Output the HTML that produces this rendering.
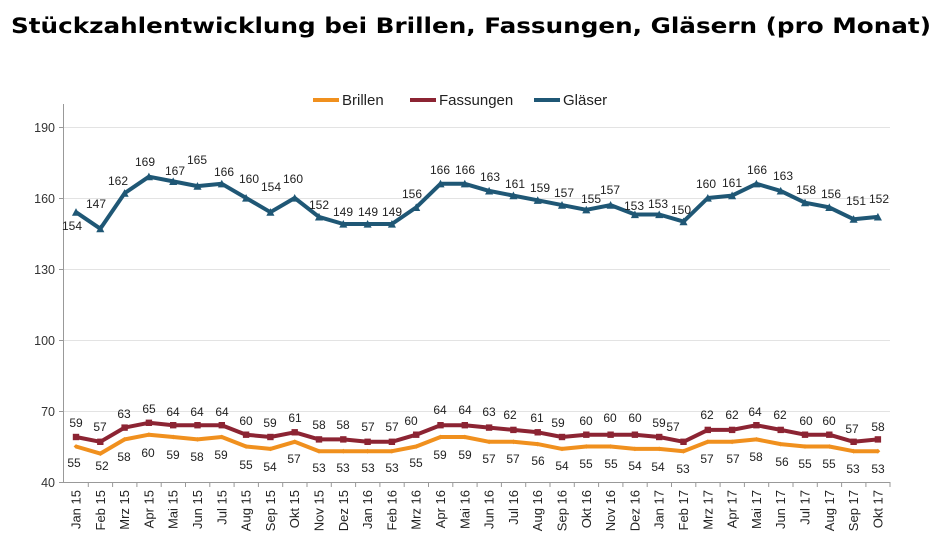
<!DOCTYPE html>
<html><head><meta charset="utf-8"><style>
body{margin:0;background:#fff;}
svg{display:block;font-family:"Liberation Sans",Arial,sans-serif;}
</style></head><body>
<svg width="945" height="557" viewBox="0 0 945 557" xmlns="http://www.w3.org/2000/svg">
<defs>
<marker id="tri" viewBox="-5 -5 10 10" markerWidth="9" markerHeight="9" markerUnits="userSpaceOnUse"><path d="M0,-4.5 L4.5,4 L-4.5,4Z" fill="#1f5775"/></marker>
<marker id="sq" viewBox="-5 -5 10 10" markerWidth="8" markerHeight="8" markerUnits="userSpaceOnUse"><rect x="-4" y="-4" width="8" height="8" fill="#8c2433"/></marker>
<marker id="dia" viewBox="-5 -5 10 10" markerWidth="6" markerHeight="6" markerUnits="userSpaceOnUse"><path d="M0,-4 L4,0 L0,4 L-4,0Z" fill="#f0901e"/></marker>
</defs>
<text x="471" y="33" text-anchor="middle" font-family="DejaVu Sans,Verdana,sans-serif" font-weight="bold" font-size="21" textLength="920" lengthAdjust="spacingAndGlyphs">Stückzahlentwicklung bei Brillen, Fassungen, Gläsern (pro Monat)</text>
<g stroke="#e3e3e3" stroke-width="1">
<line x1="64" y1="127.5" x2="890" y2="127.5"/><line x1="64" y1="198.5" x2="890" y2="198.5"/><line x1="64" y1="269.5" x2="890" y2="269.5"/><line x1="64" y1="340.5" x2="890" y2="340.5"/><line x1="64" y1="411.5" x2="890" y2="411.5"/>
</g>
<g stroke="#999" stroke-width="1">
<line x1="63.5" y1="104" x2="63.5" y2="482"/><line x1="63" y1="482.5" x2="890" y2="482.5"/>
<line x1="59" y1="127.5" x2="63" y2="127.5"/><line x1="59" y1="198.5" x2="63" y2="198.5"/><line x1="59" y1="269.5" x2="63" y2="269.5"/><line x1="59" y1="340.5" x2="63" y2="340.5"/><line x1="59" y1="411.5" x2="63" y2="411.5"/><line x1="59" y1="482.5" x2="63" y2="482.5"/>
</g>
<g font-size="12.5" fill="#333" text-anchor="end">
<text x="55" y="132">190</text><text x="55" y="203">160</text><text x="55" y="274">130</text><text x="55" y="345">100</text><text x="55" y="416">70</text><text x="55" y="487">40</text>
</g>
<g font-size="15" fill="#222">
<line x1="313" y1="100" x2="339" y2="100" stroke="#f0901e" stroke-width="4"/><text x="342" y="105">Brillen</text>
<line x1="410" y1="100" x2="436" y2="100" stroke="#8c2433" stroke-width="4"/><text x="439" y="105">Fassungen</text>
<line x1="534" y1="100" x2="560" y2="100" stroke="#1f5775" stroke-width="4"/><text x="563" y="105">Gläser</text>
</g>
<polyline fill="none" stroke="#1f5775" stroke-width="4" stroke-linejoin="round" marker-start="url(#tri)" marker-mid="url(#tri)" marker-end="url(#tri)" points="76,212.2 100.3,228.7 124.6,193.2 148.9,176.7 173.2,181.4 197.5,186.1 221.8,183.8 246.1,198 270.4,212.2 294.7,198 319,216.9 343.3,224 367.6,224 391.9,224 416.2,207.4 440.5,183.8 464.8,183.8 489.1,190.9 513.4,195.6 537.7,200.3 562,205.1 586.3,209.8 610.6,205.1 634.9,214.5 659.2,214.5 683.5,221.6 707.8,198 732.1,195.6 756.4,183.8 780.7,190.9 805,202.7 829.3,207.4 853.6,219.2 877.9,216.9"/>
<polyline fill="none" stroke="#8c2433" stroke-width="4" stroke-linejoin="round" marker-start="url(#sq)" marker-mid="url(#sq)" marker-end="url(#sq)" points="76,437 100.3,441.8 124.6,427.6 148.9,422.8 173.2,425.2 197.5,425.2 221.8,425.2 246.1,434.7 270.4,437 294.7,432.3 319,439.4 343.3,439.4 367.6,441.8 391.9,441.8 416.2,434.7 440.5,425.2 464.8,425.2 489.1,427.6 513.4,429.9 537.7,432.3 562,437 586.3,434.7 610.6,434.7 634.9,434.7 659.2,437 683.5,441.8 707.8,429.9 732.1,429.9 756.4,425.2 780.7,429.9 805,434.7 829.3,434.7 853.6,441.8 877.9,439.4"/>
<polyline fill="none" stroke="#f0901e" stroke-width="4" stroke-linejoin="round" marker-start="url(#dia)" marker-mid="url(#dia)" marker-end="url(#dia)" points="76,446.5 100.3,453.6 124.6,439.4 148.9,434.7 173.2,437 197.5,439.4 221.8,437 246.1,446.5 270.4,448.9 294.7,441.8 319,451.2 343.3,451.2 367.6,451.2 391.9,451.2 416.2,446.5 440.5,437 464.8,437 489.1,441.8 513.4,441.8 537.7,444.1 562,448.9 586.3,446.5 610.6,446.5 634.9,448.9 659.2,448.9 683.5,451.2 707.8,441.8 732.1,441.8 756.4,439.4 780.7,444.1 805,446.5 829.3,446.5 853.6,451.2 877.9,451.2"/>
<g font-size="12" fill="#222" text-anchor="middle">
<text x="72" y="230">154</text><text x="96" y="208">147</text><text x="118" y="185">162</text><text x="145" y="166">169</text><text x="175" y="175">167</text><text x="197" y="164">165</text><text x="224" y="176">166</text><text x="249" y="183">160</text><text x="271" y="191">154</text><text x="293" y="183">160</text><text x="319" y="209">152</text><text x="343" y="216">149</text><text x="368" y="216">149</text><text x="392" y="216">149</text><text x="412" y="198">156</text><text x="440" y="174">166</text><text x="465" y="174">166</text><text x="490" y="181">163</text><text x="515" y="188">161</text><text x="540" y="192">159</text><text x="564" y="197">157</text><text x="591" y="203">155</text><text x="610" y="194">157</text><text x="634" y="210">153</text><text x="658" y="208">153</text><text x="681" y="214">150</text><text x="706" y="188">160</text><text x="732" y="187">161</text><text x="757" y="174">166</text><text x="783" y="180">163</text><text x="806" y="194">158</text><text x="831" y="198">156</text><text x="856" y="205">151</text><text x="879" y="203">152</text>
</g>
<g font-size="12" fill="#222" text-anchor="middle">
<text x="76" y="427">59</text><text x="100" y="431">57</text><text x="124" y="418">63</text><text x="149" y="413">65</text><text x="173" y="416">64</text><text x="197" y="416">64</text><text x="222" y="416">64</text><text x="246" y="425">60</text><text x="270" y="427">59</text><text x="295" y="422">61</text><text x="319" y="429">58</text><text x="343" y="429">58</text><text x="368" y="431">57</text><text x="392" y="431">57</text><text x="411" y="425">60</text><text x="440" y="414">64</text><text x="465" y="414">64</text><text x="489" y="416">63</text><text x="510" y="419">62</text><text x="537" y="422">61</text><text x="558" y="427">59</text><text x="586" y="425">60</text><text x="610" y="422">60</text><text x="635" y="422">60</text><text x="659" y="427">59</text><text x="673" y="431">57</text><text x="707" y="419">62</text><text x="732" y="419">62</text><text x="755" y="416">64</text><text x="780" y="419">62</text><text x="806" y="425">60</text><text x="829" y="425">60</text><text x="852" y="433">57</text><text x="878" y="431">58</text>
</g>
<g font-size="12" fill="#222" text-anchor="middle">
<text x="74" y="467">55</text><text x="102" y="470">52</text><text x="124" y="461">58</text><text x="148" y="457">60</text><text x="173" y="459">59</text><text x="197" y="461">58</text><text x="221" y="459">59</text><text x="246" y="469">55</text><text x="270" y="471">54</text><text x="294" y="463">57</text><text x="319" y="472">53</text><text x="343" y="472">53</text><text x="368" y="472">53</text><text x="392" y="472">53</text><text x="416" y="467">55</text><text x="440" y="459">59</text><text x="465" y="459">59</text><text x="489" y="463">57</text><text x="513" y="463">57</text><text x="538" y="465">56</text><text x="562" y="470">54</text><text x="586" y="468">55</text><text x="611" y="468">55</text><text x="635" y="470">54</text><text x="658" y="471">54</text><text x="683" y="473">53</text><text x="707" y="463">57</text><text x="733" y="463">57</text><text x="756" y="461">58</text><text x="782" y="466">56</text><text x="805" y="468">55</text><text x="829" y="468">55</text><text x="853" y="473">53</text><text x="878" y="473">53</text>
</g>
<g stroke="#999" stroke-width="1">
<line x1="88.3" y1="482" x2="88.3" y2="487"/><line x1="112.6" y1="482" x2="112.6" y2="487"/><line x1="136.9" y1="482" x2="136.9" y2="487"/><line x1="161.2" y1="482" x2="161.2" y2="487"/><line x1="185.5" y1="482" x2="185.5" y2="487"/><line x1="209.8" y1="482" x2="209.8" y2="487"/><line x1="234.1" y1="482" x2="234.1" y2="487"/><line x1="258.4" y1="482" x2="258.4" y2="487"/><line x1="282.7" y1="482" x2="282.7" y2="487"/><line x1="307" y1="482" x2="307" y2="487"/><line x1="331.3" y1="482" x2="331.3" y2="487"/><line x1="355.6" y1="482" x2="355.6" y2="487"/><line x1="379.9" y1="482" x2="379.9" y2="487"/><line x1="404.2" y1="482" x2="404.2" y2="487"/><line x1="428.5" y1="482" x2="428.5" y2="487"/><line x1="452.8" y1="482" x2="452.8" y2="487"/><line x1="477.1" y1="482" x2="477.1" y2="487"/><line x1="501.4" y1="482" x2="501.4" y2="487"/><line x1="525.7" y1="482" x2="525.7" y2="487"/><line x1="550" y1="482" x2="550" y2="487"/><line x1="574.3" y1="482" x2="574.3" y2="487"/><line x1="598.6" y1="482" x2="598.6" y2="487"/><line x1="622.9" y1="482" x2="622.9" y2="487"/><line x1="647.2" y1="482" x2="647.2" y2="487"/><line x1="671.5" y1="482" x2="671.5" y2="487"/><line x1="695.8" y1="482" x2="695.8" y2="487"/><line x1="720.1" y1="482" x2="720.1" y2="487"/><line x1="744.4" y1="482" x2="744.4" y2="487"/><line x1="768.7" y1="482" x2="768.7" y2="487"/><line x1="793" y1="482" x2="793" y2="487"/><line x1="817.3" y1="482" x2="817.3" y2="487"/><line x1="841.6" y1="482" x2="841.6" y2="487"/><line x1="865.9" y1="482" x2="865.9" y2="487"/><line x1="890" y1="482" x2="890" y2="487"/>
</g>
<g font-size="13" fill="#222" text-anchor="end">
<text transform="translate(80.5,490) rotate(-90)">Jan 15</text><text transform="translate(104.8,490) rotate(-90)">Feb 15</text><text transform="translate(129.1,490) rotate(-90)">Mrz 15</text><text transform="translate(153.4,490) rotate(-90)">Apr 15</text><text transform="translate(177.7,490) rotate(-90)">Mai 15</text><text transform="translate(202,490) rotate(-90)">Jun 15</text><text transform="translate(226.3,490) rotate(-90)">Jul 15</text><text transform="translate(250.6,490) rotate(-90)">Aug 15</text><text transform="translate(274.9,490) rotate(-90)">Sep 15</text><text transform="translate(299.2,490) rotate(-90)">Okt 15</text><text transform="translate(323.5,490) rotate(-90)">Nov 15</text><text transform="translate(347.8,490) rotate(-90)">Dez 15</text><text transform="translate(372.1,490) rotate(-90)">Jan 16</text><text transform="translate(396.4,490) rotate(-90)">Feb 16</text><text transform="translate(420.7,490) rotate(-90)">Mrz 16</text><text transform="translate(445,490) rotate(-90)">Apr 16</text><text transform="translate(469.3,490) rotate(-90)">Mai 16</text><text transform="translate(493.6,490) rotate(-90)">Jun 16</text><text transform="translate(517.9,490) rotate(-90)">Jul 16</text><text transform="translate(542.2,490) rotate(-90)">Aug 16</text><text transform="translate(566.5,490) rotate(-90)">Sep 16</text><text transform="translate(590.8,490) rotate(-90)">Okt 16</text><text transform="translate(615.1,490) rotate(-90)">Nov 16</text><text transform="translate(639.4,490) rotate(-90)">Dez 16</text><text transform="translate(663.7,490) rotate(-90)">Jan 17</text><text transform="translate(688,490) rotate(-90)">Feb 17</text><text transform="translate(712.3,490) rotate(-90)">Mrz 17</text><text transform="translate(736.6,490) rotate(-90)">Apr 17</text><text transform="translate(760.9,490) rotate(-90)">Mai 17</text><text transform="translate(785.2,490) rotate(-90)">Jun 17</text><text transform="translate(809.5,490) rotate(-90)">Jul 17</text><text transform="translate(833.8,490) rotate(-90)">Aug 17</text><text transform="translate(858.1,490) rotate(-90)">Sep 17</text><text transform="translate(882.4,490) rotate(-90)">Okt 17</text>
</g>
</svg>
</body></html>
